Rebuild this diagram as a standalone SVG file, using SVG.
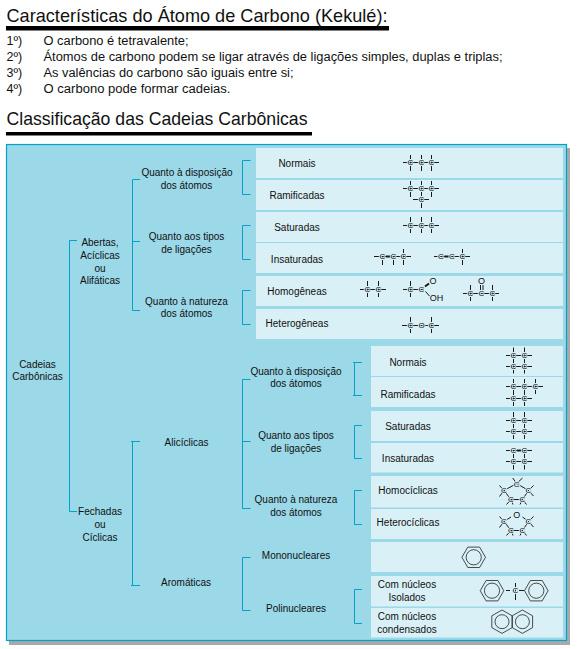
<svg xmlns="http://www.w3.org/2000/svg" width="578" height="649" viewBox="0 0 578 649">
<defs>
<style>
text{font-family:"Liberation Sans",Arial,sans-serif;fill:#111}
.title{font-size:19px}
.li{font-size:12.5px}
.l{font-size:10px;text-anchor:middle}
.row{fill:#d9f0f6}
.br{fill:none;stroke:#00a3c7;stroke-width:1}
.b{fill:none;stroke:#1a1a1a;stroke-width:1}
.bb{fill:none;stroke:#1a1a1a;stroke-width:2}
.c{font-size:8px;text-anchor:middle;paint-order:stroke;stroke:#d9f0f6;stroke-width:1.8px;stroke-linejoin:round}
.o{font-size:9px;text-anchor:middle;paint-order:stroke;stroke:#d9f0f6;stroke-width:1.5px;stroke-linejoin:round}
.hx{fill:none;stroke:#222;stroke-width:.8}
</style>
<g id="hexflat"><path class="hx" d="M-11.8 0L-5.9-10.2H5.9L11.8 0 5.9 10.2H-5.9Z"/><circle class="hx" r="7.6"/></g>
<g id="hexpt"><path class="hx" d="M0-11.7L10.2-5.9V5.9L0 11.7-10.2 5.9V-5.9Z"/><circle class="hx" r="7"/></g>
</defs>
<rect width="578" height="649" fill="#fff"/>
<g id="heading1">
<text class="title" x="6.5" y="21.5" textLength="381" lengthAdjust="spacingAndGlyphs">Características do Átomo de Carbono (Kekulé):</text>
<rect x="6" y="26" width="383" height="4.5" fill="#000"/>
</g>
<g id="list">
<text class="li" x="6.5" y="45">1º)</text><text class="li" x="43.5" y="45" textLength="145" lengthAdjust="spacingAndGlyphs">O carbono é tetravalente;</text>
<text class="li" x="6.5" y="60.5">2º)</text><text class="li" x="43.5" y="60.5" textLength="459" lengthAdjust="spacingAndGlyphs">Átomos de carbono podem se ligar através de ligações simples, duplas e triplas;</text>
<text class="li" x="6.5" y="76.5">3º)</text><text class="li" x="43.5" y="76.5" textLength="250" lengthAdjust="spacingAndGlyphs">As valências do carbono são iguais entre si;</text>
<text class="li" x="6.5" y="93">4º)</text><text class="li" x="43.5" y="93" textLength="187" lengthAdjust="spacingAndGlyphs">O carbono pode formar cadeias.</text>
</g>
<g id="heading2">
<text class="title" x="6.5" y="125" textLength="301" lengthAdjust="spacingAndGlyphs">Classificação das Cadeias Carbônicas</text>
<rect x="6" y="132" width="306" height="3.5" fill="#000"/>
</g>
<g id="panel">
<rect x="9" y="148" width="561" height="497" fill="#a9a9a9"/>
<rect x="6.5" y="144.5" width="560" height="496" fill="#9bd8e8" stroke="#00a3c7" stroke-width="1.2"/>
</g>
<g id="connectors">
<path class="br" d="M77 240.5H69.5V511.5H77"/>
<path class="br" d="M140 179.5H132.5V310.5H140M132.5 241.5H140"/>
<path class="br" d="M250.5 160.5H242.5V194.5H250.5"/>
<path class="br" d="M250.5 225.5H242.5V259.5H250.5"/>
<path class="br" d="M250.5 290.5H242.5V324.5H250.5"/>
<path class="br" d="M140 441.5H131M132.5 441.5V585.5M131 585.5H140"/>
<path class="br" d="M250.5 379.5H242.5V508.5H250.5M242.5 441.5H250.5"/>
<path class="br" d="M250.5 557.5H242.5V610.5H250.5"/>
<path class="br" d="M362 362.5H353M354.5 362.5V395.5M353 395.5H362"/>
<path class="br" d="M362 425.5H354.5V458.5H362"/>
<path class="br" d="M362 490.5H354.5V524.5H362"/>
<path class="br" d="M362 589.5H354.5V623.5H362"/>
</g>
<g id="n-cadeias"><text class="l" x="37.5" y="367.5">Cadeias</text><text class="l" x="37.5" y="379.5">Carbônicas</text></g>
<g id="n-abertas"><text class="l" x="100" y="246">Abertas,</text><text class="l" x="100" y="258.5">Acíclicas</text><text class="l" x="100" y="271.5">ou</text><text class="l" x="100" y="284">Alifáticas</text></g>
<g id="n-fechadas"><text class="l" x="100" y="515">Fechadas</text><text class="l" x="100" y="527.5">ou</text><text class="l" x="100" y="540.5">Cíclicas</text></g>
<g id="n-a-disposicao"><text class="l" x="187" y="176">Quanto à disposição</text><text class="l" x="186.5" y="188.5">dos átomos</text></g>
<g id="n-a-tipos"><text class="l" x="186.5" y="239.5">Quanto aos tipos</text><text class="l" x="186.5" y="252.5">de ligações</text></g>
<g id="n-a-natureza"><text class="l" x="186.5" y="305">Quanto à natureza</text><text class="l" x="186.5" y="317">dos átomos</text></g>
<g id="n-aliciclicas"><text class="l" x="186.5" y="445.5">Alicíclicas</text></g>
<g id="n-aromaticas"><text class="l" x="186" y="585.5">Aromáticas</text></g>
<g id="n-c-disposicao"><text class="l" x="296" y="374.5">Quanto à disposição</text><text class="l" x="296" y="386.5">dos átomos</text></g>
<g id="n-c-tipos"><text class="l" x="296" y="438.5">Quanto aos tipos</text><text class="l" x="296" y="451.5">de ligações</text></g>
<g id="n-c-natureza"><text class="l" x="296" y="502.5">Quanto à natureza</text><text class="l" x="296" y="515.5">dos átomos</text></g>
<g id="n-mono"><text class="l" x="296" y="558.5">Mononucleares</text></g>
<g id="n-poli"><text class="l" x="296" y="611.5">Polinucleares</text></g>

<g id="r-normais"><rect class="row" x="256" y="148" width="307" height="30"/><text class="l" x="297" y="166.5">Normais</text>
<path class="b" d="M403 162.5H439M410.5 155V171M421.5 155V171M431.5 155V171"/>
<text class="c" x="410.5" y="165.3">C</text><text class="c" x="421.5" y="165.3">C</text><text class="c" x="431.5" y="165.3">C</text></g>
<g id="r-ramificadas"><rect class="row" x="256" y="180" width="307" height="30"/><text class="l" x="297" y="199">Ramificadas</text>
<path class="b" d="M403 188.5H439M410.5 181V197M421.5 181V208M431.5 181V197M413 199.5H429"/>
<text class="c" x="410.5" y="191.3">C</text><text class="c" x="421.5" y="191.3">C</text><text class="c" x="431.5" y="191.3">C</text><text class="c" x="421.5" y="202.3">C</text></g>
<g id="r-saturadas"><rect class="row" x="256" y="212" width="307" height="30"/><text class="l" x="297" y="231">Saturadas</text>
<path class="b" d="M403 225.5H439M410.5 217V233M421.5 217V233M431.5 217V233"/>
<text class="c" x="410.5" y="228.3">C</text><text class="c" x="421.5" y="228.3">C</text><text class="c" x="431.5" y="228.3">C</text></g>
<g id="r-insaturadas"><rect class="row" x="256" y="243" width="307" height="30"/><text class="l" x="297" y="262.5">Insaturadas</text>
<path class="b" d="M374 256.5H411M382.5 257V265M393.5 257V265M403.5 249V265M434 256.5H470M462.5 249V265"/>
<path class="bb" d="M385 256.5H391M444 256.5H449"/>
<text class="c" x="382.5" y="259.3">C</text><text class="c" x="393.5" y="259.3">C</text><text class="c" x="403.5" y="259.3">C</text><text class="c" x="441" y="259.3">C</text><text class="c" x="452" y="259.3">C</text><text class="c" x="462.5" y="259.3">C</text></g>
<g id="r-homogeneas"><rect class="row" x="256" y="276" width="307" height="30"/><text class="l" x="297" y="295">Homogêneas</text>
<path class="b" d="M360 289.5H386M367.5 281V297M378.5 281V297"/>
<text class="c" x="367.5" y="292.3">C</text><text class="c" x="378.5" y="292.3">C</text>
<path class="b" d="M403 289.5H424M410.5 281V297M425.5 291.5L429.5 296"/>
<path class="bb" d="M425 286.5L429 283.5"/>
<text class="c" x="410.5" y="292.3">C</text><text class="c" x="421.5" y="292.3">C</text><text class="o" x="433" y="284">O</text><text class="o" x="436.5" y="300.5">OH</text>
<path class="b" d="M463 293.5H499M470.5 285V301M492.5 285V301M480.5 285V290M483 285V290"/>
<text class="c" x="470.5" y="296.3">C</text><text class="c" x="481.5" y="296.3">C</text><text class="c" x="492.5" y="296.3">C</text><text class="o" x="481.5" y="284">O</text></g>
<g id="r-heterogeneas"><rect class="row" x="256" y="309" width="307" height="30"/><text class="l" x="297" y="326.5">Heterogêneas</text>
<path class="b" d="M402 325.5H439M410.5 317V333M431.5 317V333"/>
<text class="c" x="410.5" y="328.3">C</text><text class="c" x="421.5" y="328.3">O</text><text class="c" x="431.5" y="328.3">C</text></g>

<g id="r2-normais"><rect class="row" x="371" y="346" width="192" height="30"/><text class="l" x="408" y="365.5">Normais</text>
<path class="b" d="M506 355.5H532M506 366.5H532M513.5 347.5V373.5M524.5 347.5V373.5"/>
<text class="c" x="513.5" y="358.3">C</text><text class="c" x="524.5" y="358.3">C</text><text class="c" x="513.5" y="369.3">C</text><text class="c" x="524.5" y="369.3">C</text></g>
<g id="r2-ramificadas"><rect class="row" x="371" y="377" width="192" height="30"/><text class="l" x="408" y="398">Ramificadas</text>
<path class="b" d="M506 386.5H543M506 398.5H532M513.5 379V406M524.5 379V406M535.5 379V394"/>
<text class="c" x="513.5" y="389.3">C</text><text class="c" x="524.5" y="389.3">C</text><text class="c" x="535.5" y="389.3">C</text><text class="c" x="513.5" y="401.3">C</text><text class="c" x="524.5" y="401.3">C</text></g>
<g id="r2-saturadas"><rect class="row" x="371" y="411" width="192" height="30"/><text class="l" x="408" y="430">Saturadas</text>
<path class="b" d="M506 420.5H532M506 431.5H532M513.5 412V439M524.5 412V439"/>
<text class="c" x="513.5" y="423.3">C</text><text class="c" x="524.5" y="423.3">C</text><text class="c" x="513.5" y="434.3">C</text><text class="c" x="524.5" y="434.3">C</text></g>
<g id="r2-insaturadas"><rect class="row" x="371" y="443" width="192" height="29.5"/><text class="l" x="408" y="462">Insaturadas</text>
<path class="b" d="M506 450.5H532M506 461.5H532M513.5 451V469.5M524.5 451V469.5"/>
<path class="bb" d="M516 450.5H522"/>
<text class="c" x="513.5" y="453.3">C</text><text class="c" x="524.5" y="453.3">C</text><text class="c" x="513.5" y="464.3">C</text><text class="c" x="524.5" y="464.3">C</text></g>
<g id="r2-homociclicas"><rect class="row" x="371" y="476" width="192" height="31.5"/><text class="l" x="408" y="493.5">Homocíclicas</text>
<path class="b" d="M504 490.5L516.7 483.5 528.5 490.5 522.5 499.5H511Z"/>
<path class="b" d="M516.7 483.5L512.7 478M516.7 483.5L522.5 478M504 490.5L499.5 485.5M504 490.5L499.5 496.5M528.5 490.5L533.5 485.5M528.5 490.5L533.5 496M511 499.5L506.5 504.5M511 499.5L513 504.5M522.5 499.5L520 504.5M522.5 499.5L526.5 504.5"/>
<text class="c" x="516.7" y="486.5">C</text><text class="c" x="504" y="493.3">C</text><text class="c" x="528.5" y="493.3">C</text><text class="c" x="511" y="502.3">C</text><text class="c" x="522.5" y="502.3">C</text></g>
<g id="r2-heterociclicas"><rect class="row" x="371" y="509" width="192" height="30"/><text class="l" x="408" y="525.5">Heterocíclicas</text>
<path class="b" d="M504 521.5L511 517M522.5 517L528.5 521.5 522.5 530.5H511L504 521.5"/>
<path class="b" d="M504 521.5L499.5 516.5M504 521.5L499.5 527.5M528.5 521.5L533.5 516.5M528.5 521.5L533.5 527M511 530.5L506.5 535.5M511 530.5L513 535.5M522.5 530.5L520 535.5M522.5 530.5L526.5 535.5"/>
<text class="o" x="516.7" y="518">O</text><text class="c" x="504" y="524.3">C</text><text class="c" x="528.5" y="524.3">C</text><text class="c" x="511" y="533.3">C</text><text class="c" x="522.5" y="533.3">C</text></g>
<g id="r2-mononucleares"><rect class="row" x="371" y="542" width="192" height="30"/><use href="#hexflat" x="473.7" y="557.3"/></g>
<g id="r2-isolados"><rect class="row" x="371" y="576" width="192" height="30.5"/><text class="l" x="407" y="587.5">Com núcleos</text><text class="l" x="407" y="600.5">Isolados</text>
<use href="#hexflat" x="492" y="590.7"/><use href="#hexflat" x="536.3" y="590.7"/>
<path class="b" d="M506 590.5H510M519 590.5H524M515.5 583V600"/>
<text class="c" x="515.5" y="593.3">C</text></g>
<g id="r2-condensados"><rect class="row" x="371" y="608" width="192" height="29.5"/><text class="l" x="407" y="620">Com núcleos</text><text class="l" x="407" y="632.5">condensados</text>
<use href="#hexpt" x="502" y="621.7"/><use href="#hexpt" x="522.4" y="621.7"/></g>
</svg>
